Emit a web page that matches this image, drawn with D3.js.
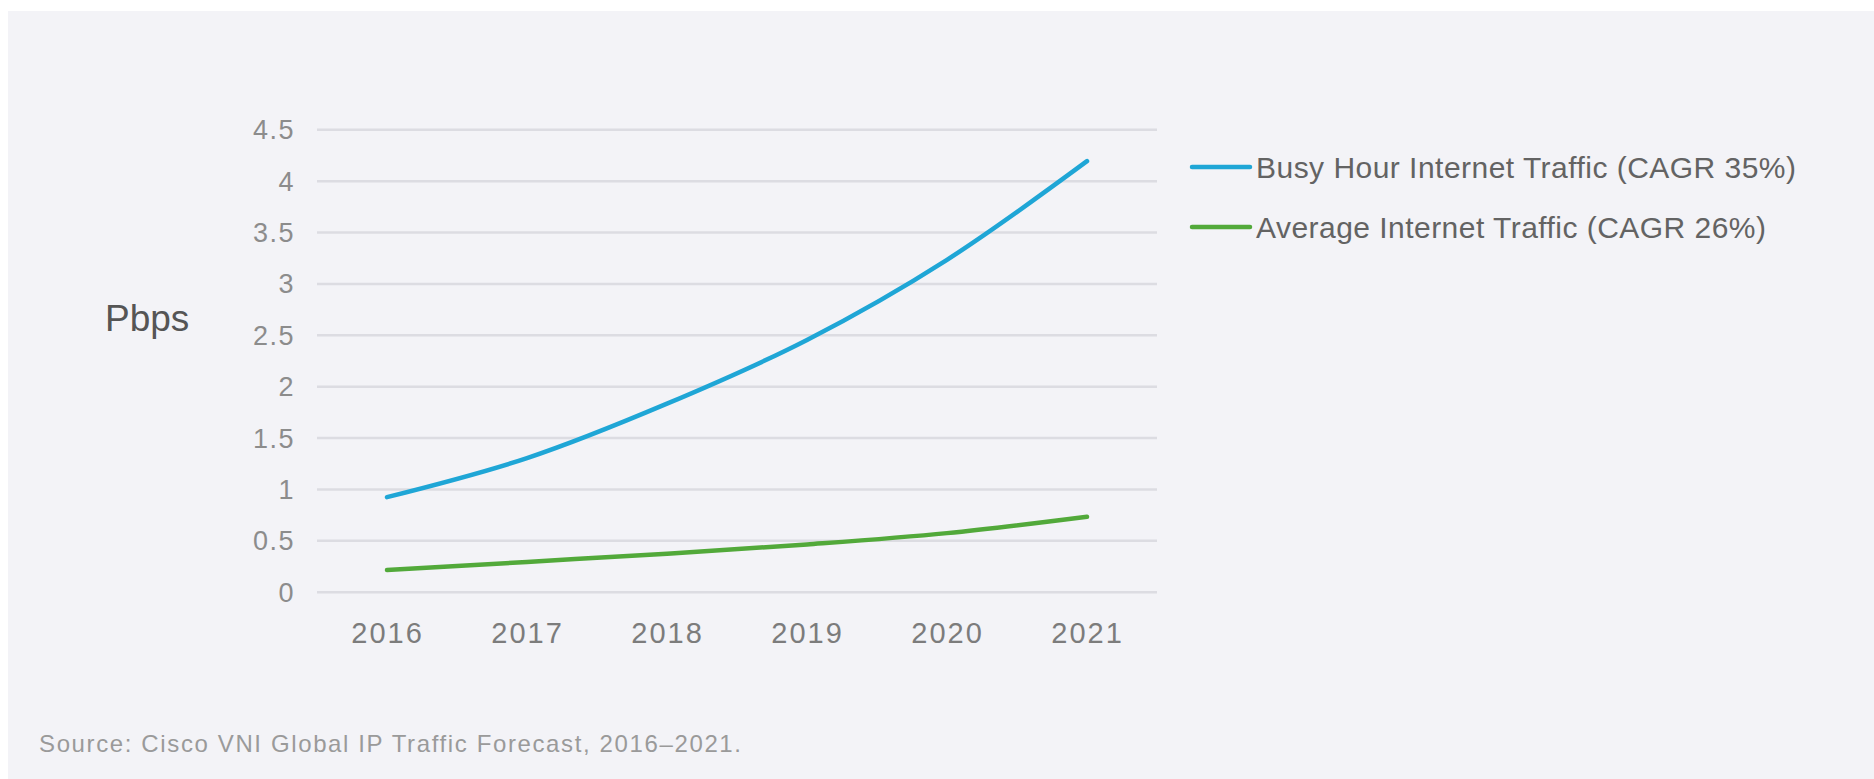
<!DOCTYPE html>
<html>
<head>
<meta charset="utf-8">
<script src="https://cdn.jsdelivr.net/npm/d3@7"></script>
<style>
  html, body { margin: 0; padding: 0; background: #ffffff; }
  svg { display: block; }
  text { font-family: "Liberation Sans", Arial, sans-serif; }
</style>
</head>
<body>
<svg id="chart" width="1874" height="779"></svg>
<script>
// Global IP traffic forecast, petabits per second
const years = ["2016", "2017", "2018", "2019", "2020", "2021"];
const busyHour = [0.92, 1.30, 1.83, 2.45, 3.23, 4.19];
const average = [0.21, 0.29, 0.37, 0.46, 0.57, 0.73];
const yTicks = [0, 0.5, 1, 1.5, 2, 2.5, 3, 3.5, 4, 4.5];
const seriesNames = ["Busy Hour Internet Traffic (CAGR 35%)", "Average Internet Traffic (CAGR 26%)"];
const seriesColors = ["#1fa6d6", "#52a93a"];
const unitLabel = "Pbps";
const sourceNote = "Source: Cisco VNI Global IP Traffic Forecast, 2016\u20132021.";

const svg = d3.select("#chart");

// light panel behind the chart
svg.append("rect")
  .attr("x", 8).attr("y", 11)
  .attr("width", 1874 - 8).attr("height", 779 - 11)
  .attr("fill", "#f3f3f7");

const plot = { left: 317, right: 1157, top: 129.3, bottom: 591.7 };

const x = d3.scalePoint()
  .domain(years)
  .range([plot.left, plot.right])
  .padding(0.5);

const y = d3.scaleLinear()
  .domain([0, 4.5])
  .range([plot.bottom, plot.top]);

// horizontal gridlines with tick labels
const yAxis = d3.axisLeft(y)
  .tickValues(yTicks)
  .tickSize(-(plot.right - plot.left))
  .tickPadding(22)
  .tickFormat(d => String(d));

const gy = svg.append("g")
  .attr("transform", `translate(${plot.left},0)`)
  .call(yAxis);
gy.select(".domain").remove();
gy.selectAll(".tick line")
  .attr("stroke", "#dcdce2")
  .attr("stroke-width", 2.5);
gy.selectAll(".tick text")
  .attr("fill", "#8c8c8c")
  .attr("font-size", 27)
  .attr("letter-spacing", 1.5)
  .attr("dy", "0.35em");

// category labels along the bottom
const xAxis = d3.axisBottom(x).tickSize(0).tickPadding(0);
const gx = svg.append("g")
  .attr("transform", `translate(0,${plot.bottom})`)
  .call(xAxis);
gx.select(".domain").remove();
gx.selectAll(".tick text")
  .attr("fill", "#7c7c7c")
  .attr("font-size", 29)
  .attr("letter-spacing", 2)
  .attr("y", 51)
  .attr("dy", 0);

// unit label
svg.append("text")
  .attr("x", 105).attr("y", 331)
  .attr("fill", "#555555")
  .attr("font-size", 37)
  .text(unitLabel);

// series lines
const line = d3.line()
  .x((d, i) => x(years[i]))
  .y(d => y(d))
  .curve(d3.curveMonotoneX);

[busyHour, average].forEach((vals, k) => {
  svg.append("path")
    .datum(vals)
    .attr("d", line)
    .attr("fill", "none")
    .attr("stroke", seriesColors[k])
    .attr("stroke-width", 4.5)
    .attr("stroke-linecap", "round")
    .attr("stroke-linejoin", "round");
});

// legend
const legend = svg.append("g");
seriesNames.forEach((name, k) => {
  const cy = 167 + k * 60;
  legend.append("line")
    .attr("x1", 1192).attr("x2", 1250)
    .attr("y1", cy).attr("y2", cy)
    .attr("stroke", seriesColors[k])
    .attr("stroke-width", 4.5)
    .attr("stroke-linecap", "round");
  legend.append("text")
    .attr("x", 1256).attr("y", cy)
    .attr("dy", "0.36em")
    .attr("fill", "#636363")
    .attr("font-size", 30)
    .attr("textLength", k === 0 ? 540 : 510)
    .attr("lengthAdjust", "spacing")
    .text(name);
});

// source note
svg.append("text")
  .attr("x", 39).attr("y", 744)
  .attr("dy", "0.35em")
  .attr("fill", "#9a9a9a")
  .attr("font-size", 24)
  .attr("textLength", 702)
  .attr("lengthAdjust", "spacing")
  .text(sourceNote);
</script>
</body>
</html>
